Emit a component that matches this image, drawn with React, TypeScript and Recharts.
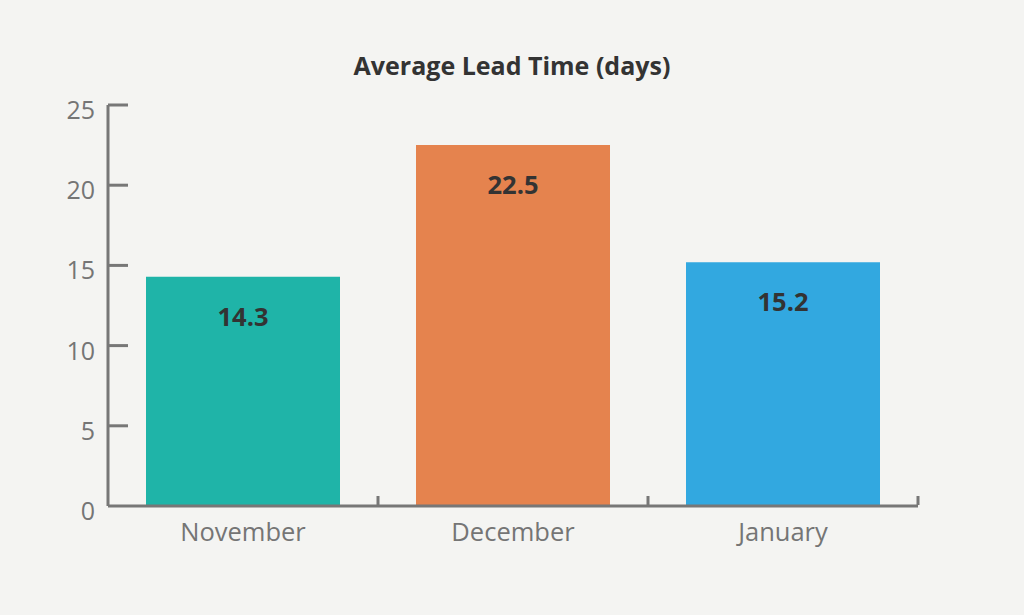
import React from 'react';
import { BarChart, Bar, XAxis, YAxis, Cell, LabelList } from 'recharts';

const months = ['November', 'December', 'January'];
const leadTimes = [14.3, 22.5, 15.2];
const barColors = ['#1fb4a8', '#e5834e', '#32a8e0'];
const yTicks = [0, 5, 10, 15, 20, 25];

const data = months.map((name, i) => ({ name, value: leadTimes[i] }));

const FONT = '"Open Sans", sans-serif';
const AXIS_COLOR = '#777777';
const TICK_TEXT = '#757575';
const HALF_BAND = 135;

const XTick = (props: any) => {
  const { x, y, payload } = props;
  return (
    <g>
      <line x1={x + HALF_BAND} y1={y - 1} x2={x + HALF_BAND} y2={y - 10} stroke={AXIS_COLOR} strokeWidth={3} />
      <text x={x} y={y + 35} textAnchor="middle" fill={TICK_TEXT} fontSize={25.5} fontFamily={FONT}>
        {payload.value}
      </text>
    </g>
  );
};

const YTick = (props: any) => {
  const { x, y, payload } = props;
  return (
    <g>
      {payload.value !== 0 && (
        <line x1={x + 13} y1={y} x2={x + 33} y2={y} stroke={AXIS_COLOR} strokeWidth={3} />
      )}
      <text x={x} y={y + 14} textAnchor="end" fill={TICK_TEXT} fontSize={25} fontFamily={FONT}>
        {payload.value}
      </text>
    </g>
  );
};

export default function App() {
  return (
    <div style={{ position: 'absolute', left: 0, top: 0, width: 1024, height: 615, background: '#f4f4f2', fontFamily: FONT }}>
      <div
        style={{
          position: 'absolute',
          top: 48,
          left: 0,
          width: 1024,
          textAlign: 'center',
          fontSize: 25,
          fontWeight: 700,
          color: '#333333',
        }}
      >
        Average Lead Time (days)
      </div>
      <BarChart width={1024} height={615} data={data} margin={{ top: 105, right: 106, bottom: 49, left: 8 }}>
        <XAxis
          dataKey="name"
          height={60}
          axisLine={{ stroke: AXIS_COLOR, strokeWidth: 3 }}
          tickLine={false}
          tickSize={0}
          tickMargin={0}
          tick={<XTick />}
          interval={0}
        />
        <YAxis
          width={100}
          domain={[0, 25]}
          ticks={yTicks}
          axisLine={{ stroke: AXIS_COLOR, strokeWidth: 3 }}
          tickLine={false}
          tickSize={0}
          tickMargin={13}
          tick={<YTick />}
        />
        <Bar dataKey="value" barSize={194} isAnimationActive={false}>
          {data.map((d, i) => (
            <Cell key={d.name} fill={barColors[i]} />
          ))}
          <LabelList
            dataKey="value"
            position="insideTop"
            offset={31}
            fill="#333333"
            fontSize={25.5}
            fontWeight={700}
            fontFamily={FONT}
          />
        </Bar>
      </BarChart>
    </div>
  );
}
